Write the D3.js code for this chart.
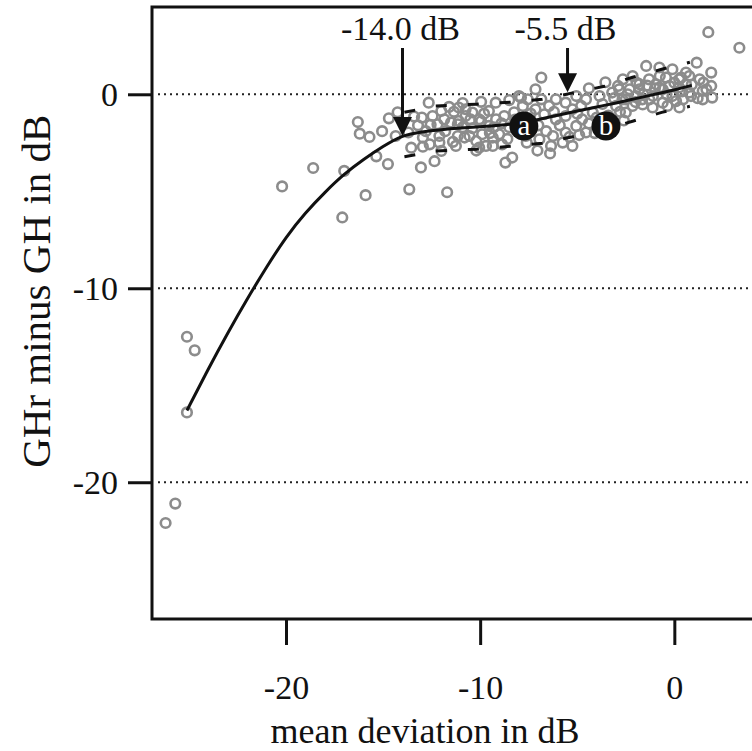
<!DOCTYPE html>
<html>
<head>
<meta charset="utf-8">
<script src="https://cdn.jsdelivr.net/npm/d3@7"></script>
<style>
  body { margin: 0; background: #fff; }
  svg text { font-family: "Liberation Serif", "Times New Roman", serif; fill: #111; }
</style>
</head>
<body>
<div id="chart"></div>
<script>
// ticks
var X_TICKS = [-20, -10, 0];
var Y_TICKS = [0, -10, -20];

// fitted curve (mean deviation -> GHr minus GH)
var CURVE_MD   = [-25.1, -24, -23, -22, -21, -20, -19, -18, -17, -16, -15, -14, -13, -12, -11, -10, -9, -8, -7, -6, -5, -4, -3, -2, -1, 0, 0.9];
var CURVE_DIFF = [-16.3, -14.15, -12.3, -10.55, -8.9, -7.35, -6.1, -5.05, -4.1, -3.35, -2.68, -2.1, -1.93, -1.82, -1.74, -1.67, -1.6, -1.5, -1.3, -1.08, -0.86, -0.65, -0.45, -0.22, 0.0, 0.22, 0.46];

// dashed limits
var BAND_MD    = [-13.9, -12.3, -10.2, -8.45, -6.8, -5.1, -3.6, -2.15, -0.65, 0.8];
var BAND_UPPER = [-0.93, -0.6, -0.51, -0.41, -0.26, 0.1, 0.41, 0.88, 1.29, 1.65];
var BAND_LOWER = [-3.22, -2.93, -2.83, -2.68, -2.52, -2.16, -1.8, -1.39, -0.93, -0.62];

// annotations
var ARROW_MD   = [-14.0, -5.5];
var ARROW_TIP  = [-2.15, 0.1];
var ARROW_TEXT = ["-14.0 dB", "-5.5 dB"];
var MARK_TEXT  = ["a", "b"];
var MARK_MD    = [-7.75, -3.52];
var MARK_DIFF  = [-1.63, -1.63];

// measured eyes [mean deviation, GHr - GH]
var SCATTER = [
  [-26.2,-22.1],[-25.7,-21.1],[-25.1,-16.4],[-25.1,-12.5],[-24.7,-13.2],
  [-20.2,-4.75],[-18.6,-3.8],[-17.0,-3.95],[-17.1,-6.35],[-15.9,-5.2],
  [-15.35,-3.2],[-14.75,-3.6],[-16.3,-1.43],[-16.2,-2.03],[-15.7,-2.2],
  [-15.05,-1.9],[-14.7,-1.24],[-14.25,-0.93],[-14.35,-2.15],[-13.65,-4.9],
  [-13.05,-3.77],[-12.35,-3.45],[-11.7,-5.05],[-13.7,-1.97],[-12.65,-0.43],
  [-12.95,-2.23],[-12.6,-2.58],[-12.95,-2.7],[-13.55,-2.75],[-12.1,-2.49],
  [-12.0,-2.92],[-12.45,-1.12],[-12.55,-1.57],[-11.85,-1.29],[-12.0,-0.86],
  [-11.35,-0.9],[-11.15,-1.55],[-11.1,-0.68],[-11.25,-2.66],[-10.8,-2.23],
  [-10.75,-1.12],[-10.2,-2.41],[-10.4,-0.94],[-9.95,-0.39],[-9.95,-1.38],
  [-9.55,-0.86],[-9.7,-2.66],[-9.35,-2.23],[-9.2,-0.43],[-12.1,-2.15],
  [-11.15,-2.15],[-11.5,-1.46],[-11.1,-1.38],[-10.75,-0.77],[-10.5,-1.29],
  [-10.05,-1.29],[-9.55,-1.63],[-10.55,-2.15],[-9.9,-2.06],[-9.3,-1.71],
  [-9.35,-2.66],[-10.05,-2.75],[-8.7,-3.52],[-8.35,-3.26],[-7.9,-0.17],
  [-7.8,-0.6],[-7.15,0.26],[-6.85,0.86],[-7.55,-0.26],[-6.85,-0.26],
  [-6.45,-0.6],[-6.1,-0.26],[-5.6,-0.43],[-5.05,-0.09],[-5.25,-0.77],
  [-4.8,-0.6],[-4.4,0.31],[-4.55,-0.26],[-3.85,-0.09],[-3.55,0.62],
  [-3.2,0.09],[-2.9,0.43],[-2.5,-0.26],[-2.3,0.26],[-1.95,0.6],
  [-1.45,1.46],[-1.3,0.77],[-0.75,0.94],[-0.6,0.26],[-0.1,1.29],
  [0.25,0.77],[0.6,1.12],[1.15,1.63],[1.3,0.77],[1.9,1.12],
  [1.65,0.26],[1.95,-0.17],[1.75,3.2],[3.35,2.4],
  [-7.65,-2.15],[-6.95,-2.32],[-6.35,-2.66],[-5.75,-2.49],[-5.25,-2.66],
  [-6.25,-2.15],[-5.6,-1.97],[-5.05,-1.63],[-4.55,-1.97],[-4.75,-1.29],
  [-6.1,-1.29],[-5.6,-1.12],[-4.2,-0.94],[-6.7,-1.03],[-7.15,-0.77],
  [-3.0,-0.6],[-2.5,-0.94],[-2.15,-0.6],[-1.65,-0.26],[-1.1,-0.09],
  [-0.6,-0.43],[-0.1,-0.09],[0.45,-0.26],[0.77,0.09],[-1.8,0.26],
  [-0.95,0.52],[-0.25,0.43],[0.25,0.35],[-2.15,0.94],[-2.65,0.77],
  [-0.77,1.38],[1.9,0.43],[0.77,0.94],[0.35,0.86],[-0.43,0.86],
  [-1.8,0.52],[-2.84,0.26],[-2.67,-0.26],[-1.97,-0.09],[-1.29,-0.26],
  [0.09,-0.35],[0.86,-0.09],[1.46,-0.26],[-0.77,0.35],[0.6,0.52],
  [0.26,-0.68],[-0.35,-0.6],[-1.12,-0.68],[-1.63,-0.52],[1.46,0.17],
  [-8.0,-0.09],[-8.76,-1.12],[-9.02,-2.06],[-8.5,-1.7],[-8.87,-2.58],
  [-8.25,-0.93],[-9.18,-1.29],[-8.5,-0.3],[-7.6,-2.49],[-7.05,-2.9],
  [-6.4,-3.05],[-13.2,-1.6],[-13.4,-1.15],[-12.8,-1.9],
  [-7.4,-1.0],[-7.0,-1.6],[-6.6,-1.9],[-6.2,-0.9],[-5.9,-1.6],
  [-5.4,-2.2],[-5.0,-1.0],[-4.9,-2.1],[-4.4,-1.5],[-4.0,-1.2],
  [-3.7,-0.5],[-3.4,-1.1],[-3.1,-0.2],[-2.8,-0.9],[-2.4,0.0],
  [-2.0,-0.4],[-1.6,0.0],[-1.4,0.45],[-1.0,0.3],[-0.4,0.0],
  [0.0,0.6],[0.4,0.15],[0.9,0.5],[1.2,-0.2],[1.5,0.6],
  [-3.5,-1.65],[-2.6,-1.35],[-4.1,-2.0],
  [-11.8,-1.9],[-11.4,-2.45],[-10.9,-1.7],[-10.4,-1.75],[-10.2,-2.9],
  [-9.8,-1.0],[-9.5,-2.0],[-8.9,-1.5],[-8.6,-2.3],[-8.2,-1.3],
  [-11.6,-0.65],[-10.9,-0.45],[-13.0,-1.2],[-12.2,-1.55]
];

var width = 752, height = 751;
var margin = {top: 7, right: 0, bottom: 132, left: 152};

var svg = d3.select("#chart").append("svg")
    .attr("width", width)
    .attr("height", height);

var x = d3.scaleLinear()
    .domain([-26.9, 4.0])
    .range([margin.left, width - margin.right]);

var y = d3.scaleLinear()
    .domain([-27.05, 4.5])
    .range([height - margin.bottom, margin.top]);

var x0 = x.range()[0], x1 = x.range()[1];
var y0 = y.range()[0], y1 = y.range()[1];

// dotted reference lines
svg.selectAll(".grid")
    .data(Y_TICKS)
  .enter().append("line")
    .attr("class", "grid")
    .attr("x1", x0 + 6)
    .attr("x2", x1)
    .attr("y1", function(d) { return y(d); })
    .attr("y2", function(d) { return y(d); })
    .style("stroke", "#222")
    .style("stroke-width", 2)
    .style("stroke-dasharray", "2,4");

// scatter
svg.selectAll(".pt")
    .data(SCATTER)
  .enter().append("circle")
    .attr("class", "pt")
    .attr("cx", function(d) { return x(d[0]); })
    .attr("cy", function(d) { return y(d[1]); })
    .attr("r", 4.8)
    .style("fill", "none")
    .style("stroke", "#8c8c8c")
    .style("stroke-width", 2.6);

// dashed limits
var band = d3.line()
    .x(function(d) { return x(d[0]); })
    .y(function(d) { return y(d[1]); });

[BAND_UPPER, BAND_LOWER].forEach(function(vals) {
  svg.append("path")
      .datum(BAND_MD.map(function(m, i) { return [m, vals[i]]; }))
      .attr("d", band)
      .style("fill", "none")
      .style("stroke", "#111")
      .style("stroke-width", 3)
      .style("stroke-dasharray", "11,21");
});

// fitted curve
var curve = d3.line()
    .x(function(d) { return x(d[0]); })
    .y(function(d) { return y(d[1]); })
    .curve(d3.curveBasis);

svg.append("path")
    .datum(CURVE_MD.map(function(m, i) { return [m, CURVE_DIFF[i]]; }))
    .attr("d", curve)
    .style("fill", "none")
    .style("stroke", "#111")
    .style("stroke-width", 3);

// a / b markers
var marks = svg.selectAll(".mark")
    .data(MARK_TEXT)
  .enter().append("g")
    .attr("class", "mark")
    .attr("transform", function(d, i) { return "translate(" + x(MARK_MD[i]) + "," + y(MARK_DIFF[i]) + ")"; });

marks.append("circle")
    .attr("r", 14.5)
    .style("fill", "#111");

marks.append("text")
    .attr("text-anchor", "middle")
    .attr("dy", "0.33em")
    .style("font-size", "29px")
    .style("fill", "#fff")
    .text(function(d) { return d; });

// arrows with labels
ARROW_MD.forEach(function(m, i) {
  var ax = x(m), tip = y(ARROW_TIP[i]);
  svg.append("line")
      .attr("x1", ax).attr("x2", ax)
      .attr("y1", 48).attr("y2", tip - 15)
      .style("stroke", "#111")
      .style("stroke-width", 3);
  svg.append("path")
      .attr("d", "M" + (ax - 9.5) + "," + (tip - 19) + "L" + (ax + 9.5) + "," + (tip - 19) + "L" + ax + "," + tip + "Z")
      .style("fill", "#111");
  svg.append("text")
      .attr("x", ax - 2)
      .attr("y", 40)
      .attr("text-anchor", "middle")
      .style("font-size", "34px")
      .text(ARROW_TEXT[i]);
});

// frame
svg.append("path")
    .attr("d", "M" + (x1 + 10) + "," + y1 + "H" + x0 + "V" + y0 + "H" + (x1 + 10))
    .style("fill", "none")
    .style("stroke", "#111")
    .style("stroke-width", 3);

// axes
var xAxis = d3.axisBottom(x)
    .tickValues(X_TICKS)
    .tickSize(26)
    .tickPadding(30)
    .tickFormat(function(d) { return String(d); });

var yAxis = d3.axisLeft(y)
    .tickValues(Y_TICKS)
    .tickSize(24)
    .tickPadding(10)
    .tickFormat(function(d) { return String(d); });

var gx = svg.append("g")
    .attr("transform", "translate(0," + y0 + ")")
    .call(xAxis);

var gy = svg.append("g")
    .attr("transform", "translate(" + x0 + ",0)")
    .call(yAxis);

[gx, gy].forEach(function(g) {
  g.select(".domain").remove();
  g.selectAll(".tick line").style("stroke", "#111").style("stroke-width", 3);
  g.selectAll(".tick text")
      .style("font-family", "'Liberation Serif', 'Times New Roman', serif")
      .style("font-size", "34px")
      .style("fill", "#111");
});
gy.selectAll(".tick text").attr("dy", "0.34em");

// axis titles
svg.append("text")
    .attr("x", 425)
    .attr("y", 743)
    .attr("text-anchor", "middle")
    .style("font-size", "36px")
    .text("mean deviation in dB");

svg.append("text")
    .attr("transform", "translate(50," + (y(-10) + 3) + ") rotate(-90)")
    .attr("text-anchor", "middle")
    .style("font-size", "41px")
    .text("GHr minus GH in dB");
</script>
</body>
</html>
